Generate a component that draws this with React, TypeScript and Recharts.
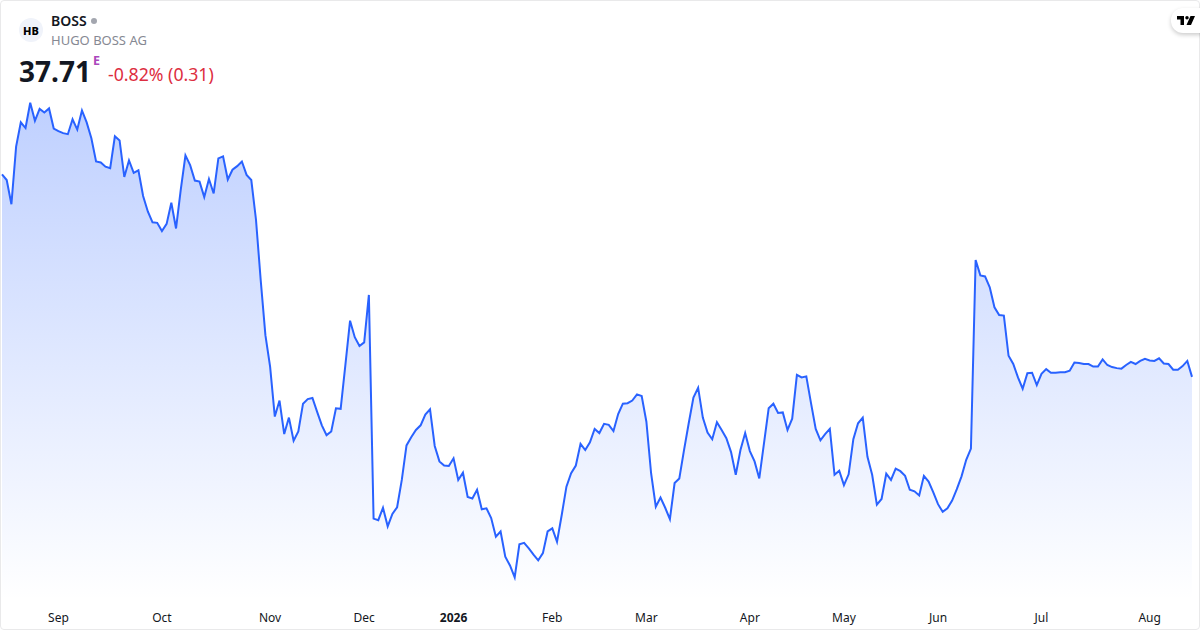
import { Area, AreaChart, XAxis, YAxis } from "recharts";

// daily closes, one year of sessions
const closes = [
  41.64, 41.53, 41.06, 42.18, 42.65, 42.54, 43.03, 42.68, 42.91, 42.84, 42.92, 42.53, 42.48, 42.44, 42.42, 42.71,
  42.51, 42.88, 42.65, 42.34, 41.89, 41.87, 41.79, 41.76, 42.38, 42.3, 41.59, 41.91, 41.67, 41.72, 41.22, 40.92,
  40.71, 40.7, 40.54, 40.68, 41.09, 40.59, 41.34, 42.01, 41.82, 41.52, 41.5, 41.2, 41.55, 41.27, 41.95, 41.99,
  41.54, 41.73, 41.8, 41.89, 41.63, 41.53, 40.76, 39.59, 38.52, 37.91, 36.94, 37.25, 36.6, 36.92, 36.47, 36.65,
  37.19, 37.28, 37.3, 37.03, 36.77, 36.58, 36.65, 37.1, 37.09, 37.94, 38.8, 38.48, 38.31, 38.38, 39.3, 34.96,
  34.93, 35.17, 34.81, 35.05, 35.18, 35.71, 36.38, 36.54, 36.68, 36.77, 36.98, 37.08, 36.37, 36.07, 35.99, 35.98,
  36.13, 35.71, 35.85, 35.38, 35.35, 35.52, 35.14, 35.16, 34.97, 34.61, 34.71, 34.22, 34.05, 33.82, 34.46, 34.49,
  34.38, 34.26, 34.15, 34.29, 34.71, 34.77, 34.51, 35.03, 35.58, 35.84, 35.99, 36.41, 36.29, 36.44, 36.7, 36.62,
  36.8, 36.78, 36.66, 36.99, 37.19, 37.2, 37.25, 37.37, 37.34, 36.84, 35.84, 35.19, 35.37, 35.17, 34.95, 35.65,
  35.74, 36.29, 36.81, 37.31, 37.5, 36.92, 36.63, 36.5, 36.83, 36.68, 36.52, 36.25, 35.81, 36.29, 36.62, 36.27,
  36.07, 35.74, 36.42, 37.1, 37.19, 37.01, 37.02, 36.68, 36.9, 37.75, 37.7, 37.72, 37.2, 36.7, 36.48, 36.6,
  36.7, 35.81, 35.89, 35.61, 35.82, 36.5, 36.81, 36.92, 36.16, 35.81, 35.23, 35.34, 35.83, 35.71, 35.93, 35.88,
  35.79, 35.52, 35.49, 35.41, 35.79, 35.68, 35.47, 35.24, 35.09, 35.16, 35.31, 35.53, 35.78, 36.1, 36.32, 39.98,
  39.68, 39.66, 39.45, 39.06, 38.91, 38.9, 38.12, 37.96, 37.7, 37.48, 37.78, 37.79, 37.55, 37.77, 37.86, 37.79,
  37.79, 37.8, 37.8, 37.83, 37.99, 37.98, 37.96, 37.96, 37.91, 37.91, 38.05, 37.94, 37.9, 37.88, 37.87, 37.94,
  38.0, 37.96, 38.02, 38.06, 38.03, 38.02, 38.07, 37.97, 37.96, 37.85, 37.85, 37.92, 38.02, 37.71,
];
const tickSessions = [12, 34, 57, 77, 96, 117, 137, 159, 179, 199, 221, 244];
const tickLabels = ["Sep", "Oct", "Nov", "Dec", "2026", "Feb", "Mar", "Apr", "May", "Jun", "Jul", "Aug"];

const data = closes.map((close, session) => ({ session, close }));
const font = "'Noto Sans', sans-serif";

function MonthTick({ x, y, payload }: any) {
  const label = tickLabels[tickSessions.indexOf(payload.value)];
  return (
    <text x={x} y={y + 11} textAnchor="middle" dominantBaseline="central" fontFamily={font} fontSize={12}
      fontWeight={label === "2026" ? 700 : 400} fill="#131722">
      {label}
    </text>
  );
}

export default function App() {
  return (
    <div style={{ position: "fixed", left: 0, top: 0, width: 1200, height: 630, background: "#fff", overflow: "hidden", fontFamily: font }}>
      <AreaChart width={1200} height={630} data={data} margin={{ top: 60, right: 8, left: 2, bottom: 0 }}>
        <defs>
          <linearGradient id="closeFill" x1="0" y1="0" x2="0" y2="1">
            <stop offset="0%" stopColor="#2962ff" stopOpacity={0.3} />
            <stop offset="100%" stopColor="#2962ff" stopOpacity={0} />
          </linearGradient>
        </defs>
        <XAxis dataKey="session" type="number" domain={[0, 253]} ticks={tickSessions} interval={0} height={30}
          axisLine={false} tickLine={false} tick={<MonthTick />} tickMargin={0} />
        <YAxis hide domain={[33.38, 43.86]} />
        <Area type="linear" dataKey="close" stroke="#2962ff" strokeWidth={2} fill="url(#closeFill)" fillOpacity={1} isAnimationActive={false} dot={false} />
      </AreaChart>

      <div style={{ position: "absolute", inset: 0, border: "1px solid #e9e9ea", borderRadius: 4, boxSizing: "border-box", pointerEvents: "none" }} />

      <div style={{ position: "absolute", left: 19, top: 18, width: 24, height: 24, borderRadius: 12, background: "#f0f3fa", display: "flex", alignItems: "center", justifyContent: "center", fontSize: 11, fontWeight: 800, color: "#000" }}>HB</div>
      <div style={{ position: "absolute", left: 51, top: 12, fontSize: 14, lineHeight: "18px", fontWeight: 600, color: "#131722" }}>BOSS</div>
      <div style={{ position: "absolute", left: 91, top: 18, width: 6, height: 6, borderRadius: 3, background: "#a3a6af" }} />
      <div style={{ position: "absolute", left: 51, top: 32, fontSize: 13, lineHeight: "16px", color: "#868993" }}>HUGO BOSS AG</div>
      <div style={{ position: "absolute", left: 19, top: 53, fontSize: 28, lineHeight: "36px", fontWeight: 700, color: "#131722" }}>37.71</div>
      <div style={{ position: "absolute", left: 93, top: 54, fontSize: 12.5, lineHeight: "14px", fontWeight: 700, color: "#ab47bc" }}>E</div>
      <div style={{ position: "absolute", left: 108, top: 63, fontSize: 17.7, lineHeight: "22px", color: "#dd2e41" }}>-0.82% (0.31)</div>

      <div style={{ position: "absolute", left: 1171, top: 8, width: 40, height: 25, borderRadius: 12, background: "#fff", boxShadow: "0 2px 4px rgba(0,0,0,0.2)", display: "flex", alignItems: "center", paddingLeft: 6, boxSizing: "border-box" }}>
        <svg width="18" height="9" viewBox="0 0 36 18">
          <path d="M0 0h14v18H7V7H0zM20 0a3.5 3.5 0 1 1 0 7 3.5 3.5 0 0 1 0-7zM27 0h9l-8 18h-9z" fill="#000" />
        </svg>
      </div>
    </div>
  );
}
